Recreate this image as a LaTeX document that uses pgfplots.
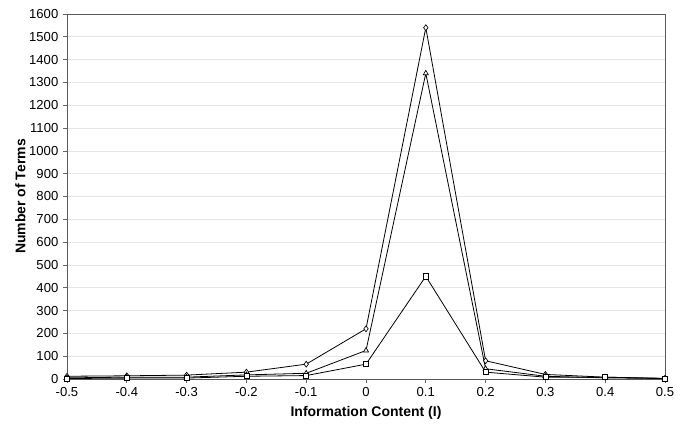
\documentclass[border=0pt]{standalone}
\usepackage{pgfplots}
\pgfplotsset{compat=1.18}
\usepackage{fontspec}
\setmainfont{Liberation Sans}
\begin{document}
\begin{tikzpicture}
\begin{axis}[
    name=a,
    scale only axis,
    width=448.5pt, height=273.75pt,
    xmin=-0.5, xmax=0.5,
    ymin=0, ymax=1600,
    xtick={-0.5,-0.4,-0.3,-0.2,-0.1,0,0.1,0.2,0.3,0.4,0.5},
    xticklabels={-0.5,-0.4,-0.3,-0.2,-0.1,0,0.1,0.2,0.3,0.4,0.5},
    ytick={0,100,...,1600},
    yticklabels={0,100,200,300,400,500,600,700,800,900,1000,1100,1200,1300,1400,1500,1600},
    tick pos=left, tick align=outside,
    major tick length=3pt,
    tick style={gray!80!black, line width=0.5pt},
    axis line style={gray!70!black, line width=0.6pt},
    ymajorgrids,
    grid style={gray!20, line width=0.5pt},
    ticklabel style={font=\fontsize{9.8}{11}\selectfont},
    xlabel={\textbf{Information Content (I)}},
    ylabel={\textbf{Number of Terms}},
    label style={font=\fontsize{10.5}{12}\selectfont},
    xlabel style={yshift=0pt},
    ylabel style={yshift=-4pt},
    every axis plot/.append style={black, line width=0.6pt, mark size=2.2pt,
        mark options={solid, fill=white, line width=0.5pt}},
]
\coordinate (bl) at (rel axis cs:0,0);
\coordinate (tr) at (rel axis cs:1,1);
% diamonds
\addplot[mark=diamond*] coordinates {
(-0.5,12) (-0.4,14) (-0.3,17) (-0.2,30) (-0.1,65) (0,220)
(0.1,1540) (0.2,80) (0.3,20) (0.4,8) (0.5,3)};
% triangles
\addplot[mark=triangle*] coordinates {
(-0.5,5) (-0.4,8) (-0.3,8) (-0.2,18) (-0.1,25) (0,125)
(0.1,1340) (0.2,45) (0.3,12) (0.4,5) (0.5,2)};
% squares
\addplot[mark=square*, mark size=1.9pt] coordinates {
(-0.5,2) (-0.4,4) (-0.3,4) (-0.2,12) (-0.1,15) (0,65)
(0.1,450) (0.2,30) (0.3,8) (0.4,8) (0.5,2)};
\end{axis}
\pgfresetboundingbox
\path ([shift={(-50.25pt,-41.25pt)}]bl) rectangle ([shift={(15pt,10.5pt)}]tr);
\end{tikzpicture}
\end{document}
